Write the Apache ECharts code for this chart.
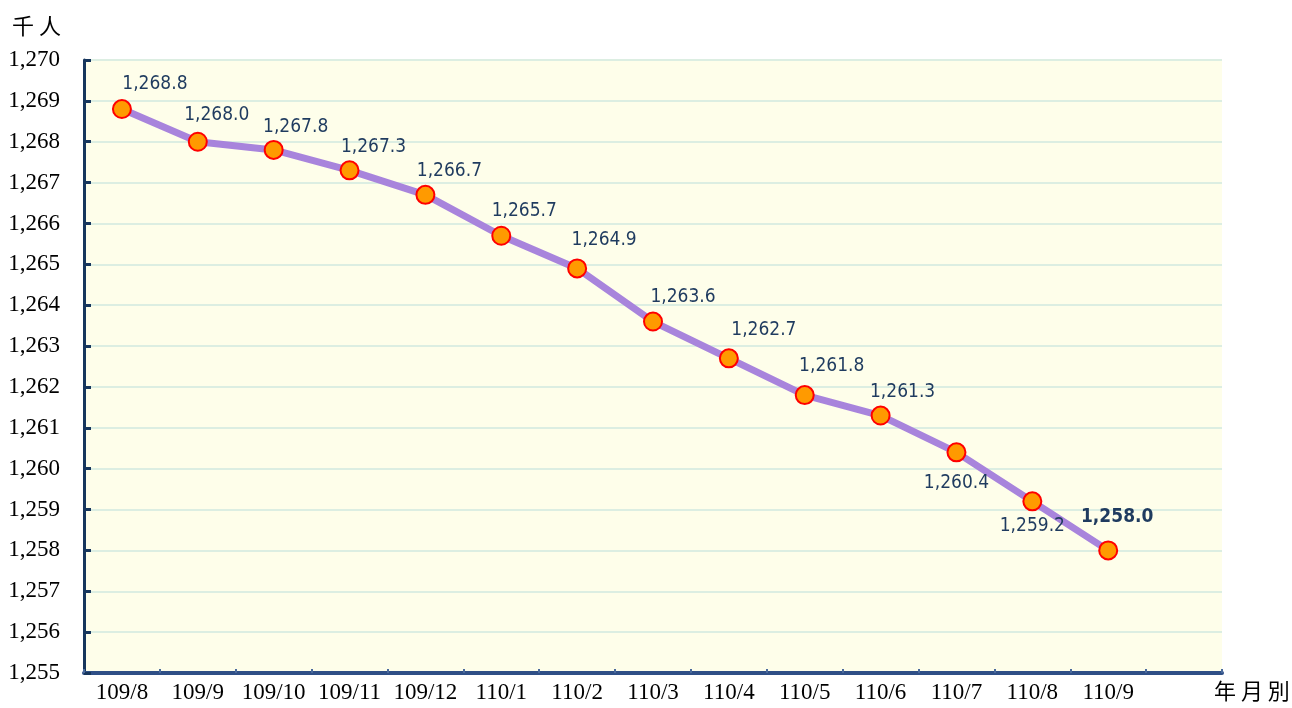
<!DOCTYPE html>
<html><head><meta charset="utf-8">
<script src="https://cdn.jsdelivr.net/npm/echarts@6/dist/echarts.min.js"></script>
<style>html,body{margin:0;padding:0;background:#fff}#c{width:1292px;height:708px}</style>
</head><body><div id="c"></div>
<script>
const categories = ['109/8','109/9','109/10','109/11','109/12','110/1','110/2','110/3','110/4','110/5','110/6','110/7','110/8','110/9',''];
const values = [1268.8,1268.0,1267.8,1267.3,1266.7,1265.7,1264.9,1263.6,1262.7,1261.8,1261.3,1260.4,1259.2,1258.0];
const yMin = 1255, yMax = 1270, yStep = 1;
const yName = '千 人', xName = '年 月 別';

// label placement per point (style only)
const labelPlace = [
  ['top',[33,0]],['top',[19,-2]],['top',[22,2]],['top',[24,1]],['top',[24,1]],
  ['top',[23,0]],['top',[27,-4]],['top',[30,0]],['top',[35,-4]],['top',[27,-5]],
  ['top',[22,1]],['bottom',[0,6]],['bottom',[0,0]],['top',[9,-9]]
];
const seriesData = values.map((v,i)=>({
  value: v,
  label: {position: labelPlace[i][0], offset: labelPlace[i][1],
          fontWeight: i === values.length-1 ? 'bold' : 'normal'}
}));

const chart = echarts.init(document.getElementById('c'), null, {renderer:'canvas'});
chart.setOption({
  animation:false,
  backgroundColor:'#ffffff',
  grid:{left:84, right:70, top:60, bottom:35, show:true, backgroundColor:'#fefeea', borderWidth:0},
  graphic:[
    {type:'text', left:12, top:15, style:{text:yName, font:'22px "Noto Sans CJK TC"', fill:'#000'}},
    {type:'text', left:1214, top:680, style:{text:xName, font:'22px "Noto Sans CJK TC"', fill:'#000'}}
  ],
  xAxis:{
    type:'category', data:categories, boundaryGap:true,
    axisLine:{show:true, lineStyle:{color:'#2f4f86', width:4}},
    axisTick:{show:true, inside:true, length:4, lineStyle:{color:'#4a6a9c', width:2}},
    axisLabel:{color:'#000', fontFamily:'"Liberation Serif", serif', fontSize:23, margin:8, interval:0},
    splitLine:{show:false}
  },
  yAxis:{
    type:'value', min:yMin, max:yMax, interval:yStep,
    axisLine:{show:true, lineStyle:{color:'#17365d', width:3}},
    axisTick:{show:true, inside:true, length:7, lineStyle:{color:'#17365d', width:3}},
    axisLabel:{color:'#000', fontFamily:'"Liberation Serif", serif', fontSize:23, margin:24,
      formatter:v=>v.toLocaleString('en-US')},
    splitLine:{show:true, lineStyle:{color:'#dceee2', width:2}}
  },
  series:[{
    type:'line', data:seriesData,
    lineStyle:{color:'#a884dc', width:7},
    symbol:'circle', symbolSize:18,
    itemStyle:{color:'#ff9a00', borderColor:'#ff0000', borderWidth:2},
    label:{show:true, color:'#1f3b5f', fontSize:19,
      fontFamily:'"DejaVu Sans Condensed", sans-serif',
      formatter:p=>p.value.toLocaleString('en-US',{minimumFractionDigits:1, maximumFractionDigits:1})},
    z:3
  }]
});
</script></body></html>
